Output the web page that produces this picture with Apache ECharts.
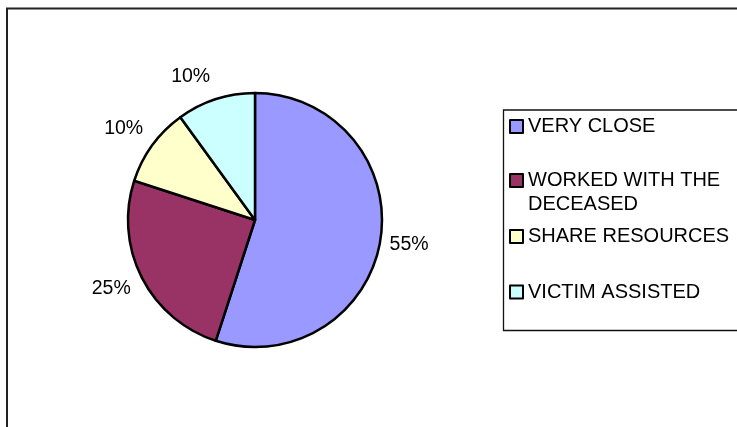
<!DOCTYPE html>
<html>
<head>
<meta charset="utf-8">
<style>
  html, body { margin: 0; padding: 0; background: #ffffff; }
  #chart { width: 737px; height: 427px; }
</style>
<script src="https://cdn.jsdelivr.net/npm/echarts@6/dist/echarts.min.js"></script>
</head>
<body>
<div id="chart"></div>
<script>
// Relationship categories and their shares (percent)
const categories = ['VERY CLOSE', 'WORKED WITH THE DECEASED', 'SHARE RESOURCES', 'VICTIM ASSISTED'];
const shares = [55, 25, 10, 10];
const sliceColors = ['#9999FF', '#993366', '#FFFFCC', '#CCFFFF'];
// Legend wording (the long entry wraps onto two lines; the leading blank
// line keeps its first line level with the colour key)
const legendText = ['VERY CLOSE', '\nWORKED WITH THE\nDECEASED', 'SHARE RESOURCES', 'VICTIM ASSISTED'];
// fine placement of each percentage label around the pie
const labelNudge = [[-2, 0], [-3, -3], [-3.5, 1.5], [-15.5, 6.5]];

const FONT = 'Liberation Sans, Arial, sans-serif';
const CX = 255, CY = 220, R = 127;

const pieData = categories.map((name, i) => ({
  name: name,
  value: shares[i],
  itemStyle: { color: sliceColors[i] }
}));

// one single-entry legend per category, stacked in the legend panel
const legendTops = [114.5, 144.5, 224.5, 280];
const legends = categories.map((name, i) => ({
  data: [name],
  orient: 'vertical',
  left: 509,
  top: legendTops[i],
  padding: 0,
  selectedMode: false,
  icon: 'rect',
  itemWidth: 13,
  itemHeight: 13,
  itemStyle: { borderColor: '#000', borderWidth: 2 },
  formatter: () => legendText[i],
  textStyle: {
    fontFamily: FONT,
    fontSize: 20,
    color: '#000',
    lineHeight: 24
  }
}));

const chart = echarts.init(document.getElementById('chart'), null, { renderer: 'canvas' });
chart.setOption({
  backgroundColor: '#ffffff',
  animation: false,
  legend: legends,
  graphic: [
    // chart frame
    { type: 'rect', shape: { x: 7, y: 8.5, width: 760, height: 440 },
      style: { fill: 'none', stroke: '#222', lineWidth: 2 }, silent: true, z: 0 },
    // legend panel
    { type: 'rect', shape: { x: 503.5, y: 110, width: 260, height: 220.5 },
      style: { fill: 'none', stroke: '#111', lineWidth: 1.3 }, silent: true, z: 0 }
  ],
  series: [
    {
      type: 'pie',
      center: [CX, CY],
      radius: R,
      startAngle: 90,
      clockwise: true,
      silent: true,
      label: { show: false },
      labelLine: { show: false },
      itemStyle: { borderColor: '#000', borderWidth: 2.5 },
      emphasis: { disabled: true },
      data: pieData
    },
    {
      // invisible ring carrying the percentage labels outside the pie
      type: 'pie',
      center: [CX, CY],
      radius: [0, 310],
      startAngle: 90,
      clockwise: true,
      silent: true,
      avoidLabelOverlap: false,
      percentPrecision: 0,
      itemStyle: { color: 'transparent', borderWidth: 0 },
      emphasis: { disabled: true },
      labelLine: { show: false },
      label: {
        show: true,
        position: 'inside',
        formatter: '{d}%',
        fontFamily: FONT,
        fontSize: 19.5,
        color: '#000',
        textBorderWidth: 0
      },
      data: categories.map((name, i) => ({
        name: name,
        value: shares[i],
        label: { offset: labelNudge[i] }
      }))
    }
  ]
});
</script>
</body>
</html>
